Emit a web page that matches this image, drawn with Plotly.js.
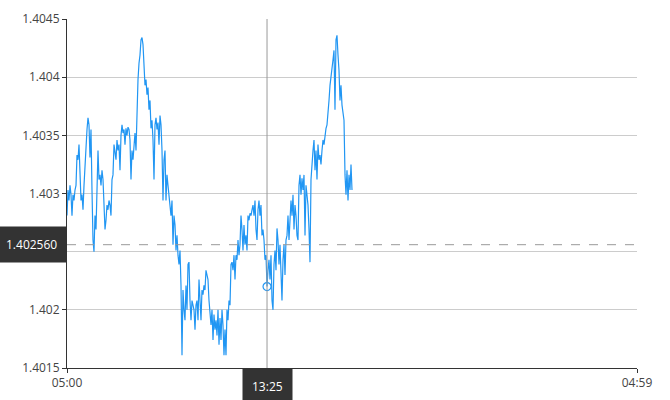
<!DOCTYPE html>
<html>
<head>
<meta charset="utf-8">
<script src="https://cdn.plot.ly/plotly-3.0.1.min.js"></script>
<style>html,body{margin:0;padding:0;background:#fff;}#chart{width:670px;height:400px;}</style>
</head>
<body>
<div id="chart"></div>
<script>
// Price series, one value per sampling step starting at 05:00
const prices = [
1.40281,1.40303,1.40294,1.40307,1.40299,1.40281,1.40299,1.40294,1.40303,1.40307,
1.40333,1.40329,1.40342,1.40320,1.40294,1.40299,1.40286,1.40307,1.40325,1.40333,
1.40355,1.40365,1.40359,1.40331,1.40355,1.40303,1.40260,1.40250,1.40281,1.40269,
1.40303,1.40337,1.40312,1.40316,1.40307,1.40320,1.40312,1.40281,1.40269,1.40277,
1.40290,1.40286,1.40294,1.40290,1.40281,1.40312,1.40316,1.40342,1.40337,1.40329,
1.40346,1.40337,1.40342,1.40320,1.40350,1.40359,1.40352,1.40355,1.40342,1.40356,
1.40350,1.40357,1.40355,1.40346,1.40312,1.40337,1.40329,1.40342,1.40352,1.40337,
1.40374,1.40398,1.40412,1.40419,1.40432,1.40434,1.40428,1.40415,1.40393,1.40398,
1.40385,1.40391,1.40372,1.40380,1.40356,1.40363,1.40346,1.40312,1.40359,1.40365,
1.40355,1.40361,1.40342,1.40367,1.40359,1.40337,1.40294,1.40329,1.40337,1.40294,
1.40316,1.40307,1.40299,1.40294,1.40281,1.40294,1.40256,1.40281,1.40273,1.40251,
1.40264,1.40247,1.40239,1.40251,1.40221,1.40161,1.40217,1.40200,1.40191,1.40221,
1.40200,1.40239,1.40241,1.40208,1.40191,1.40208,1.40204,1.40200,1.40183,1.40204,
1.40208,1.40191,1.40226,1.40213,1.40191,1.40217,1.40213,1.40221,1.40217,1.40234,
1.40230,1.40226,1.40208,1.40200,1.40187,1.40200,1.40174,1.40196,1.40183,1.40191,
1.40178,1.40200,1.40170,1.40193,1.40174,1.40200,1.40187,1.40161,1.40183,1.40161,
1.40200,1.40191,1.40208,1.40204,1.40239,1.40241,1.40234,1.40247,1.40226,1.40247,
1.40243,1.40260,1.40247,1.40256,1.40281,1.40269,1.40251,1.40273,1.40256,1.40264,
1.40251,1.40281,1.40277,1.40283,1.40281,1.40286,1.40290,1.40281,1.40294,1.40269,
1.40260,1.40286,1.40294,1.40281,1.40290,1.40264,1.40269,1.40260,1.40243,1.40247,
1.40220,1.40234,1.40243,1.40226,1.40247,1.40208,1.40200,1.40239,1.40251,1.40234,
1.40270,1.40260,1.40239,1.40256,1.40226,1.40208,1.40243,1.40256,1.40230,1.40260,
1.40264,1.40281,1.40260,1.40273,1.40294,1.40281,1.40299,1.40269,1.40290,1.40281,
1.40264,1.40260,1.40307,1.40316,1.40299,1.40313,1.40303,1.40316,1.40264,1.40307,
1.40299,1.40290,1.40269,1.40241,1.40312,1.40329,1.40337,1.40346,1.40320,1.40337,
1.40312,1.40342,1.40329,1.40333,1.40325,1.40337,1.40346,1.40342,1.40350,1.40356,
1.40359,1.40367,1.40380,1.40393,1.40399,1.40406,1.40415,1.40423,1.40372,1.40432,
1.40436,1.40419,1.40406,1.40380,1.40393,1.40376,1.40367,1.40363,1.40316,1.40299,
1.40320,1.40294,1.40316,1.40303,1.40325,1.40303
];
const sessionStart = '2024-01-01 05:00';
const sessionEnd = '2024-01-02 04:59';
const xTickLabels = ['05:00', '04:59'];
const yTickValues = [1.4015, 1.402, 1.4025, 1.403, 1.4035, 1.404, 1.4045];
// 1.4025 label is covered by the level label box in the reference
const yTickLabels = ['1.4015', '1.402', '', '1.403', '1.4035', '1.404', '1.4045'];
const stepMinutes = 1439 / 570;
const hoverTime = '2024-01-01 13:25';
const hoverLabel = '13:25';
const hoverValue = 1.40220;
const refLevel = 1.40256;
const refLabel = '1.402560';

// timestamps on a regular grid from the session start
const base = new Date(Date.UTC(2024, 0, 1, 5, 0, 0)).getTime();
function fmt(ms) {
  const d = new Date(ms);
  const p = n => String(n).padStart(2, '0');
  return d.getUTCFullYear() + '-' + p(d.getUTCMonth() + 1) + '-' + p(d.getUTCDate()) + ' ' +
    p(d.getUTCHours()) + ':' + p(d.getUTCMinutes()) + ':' + p(d.getUTCSeconds());
}
const times = prices.map((_, i) => fmt(base + Math.round(i * stepMinutes * 60000)));

const blue = '#2196f3';
const traces = [
  {x: times, y: prices, type: 'scatter', mode: 'lines',
   line: {color: blue, width: 1.2}, hoverinfo: 'skip'},
  {x: [hoverTime], y: [hoverValue], type: 'scatter', mode: 'markers',
   marker: {size: 8, color: 'rgba(255,255,255,0)', line: {color: blue, width: 1.2}}, hoverinfo: 'skip'}
];

const layout = {
  width: 670, height: 400,
  margin: {l: 67, r: 33, t: 19, b: 32},
  paper_bgcolor: '#fff', plot_bgcolor: '#fff',
  showlegend: false,
  font: {family: 'Open Sans, Noto Sans, sans-serif', size: 12, color: '#444'},
  xaxis: {
    type: 'date', range: [sessionStart, sessionEnd],
    tickvals: [sessionStart, sessionEnd], ticktext: xTickLabels,
    showgrid: false, zeroline: false,
    showline: true, linecolor: '#333', linewidth: 1,
    ticks: 'outside', ticklen: 4, tickcolor: '#333',
    tickfont: {size: 12, color: '#444'}
  },
  yaxis: {
    range: [1.4015, 1.4045],
    tickvals: yTickValues, ticktext: yTickLabels,
    showgrid: true, gridcolor: '#cccccc', gridwidth: 1, zeroline: false,
    showline: true, linecolor: '#333', linewidth: 1,
    ticks: 'outside', ticklen: 4, tickcolor: '#333',
    tickfont: {size: 12, color: '#444'}
  },
  shapes: [
    {type: 'line', xref: 'paper', x0: 0, x1: 1, yref: 'y', y0: refLevel, y1: refLevel,
     line: {color: '#999', width: 1, dash: 'dash'}},
    {type: 'line', xref: 'x', x0: hoverTime, x1: hoverTime, yref: 'paper', y0: 0, y1: 1,
     line: {color: '#999', width: 1}}
  ],
  annotations: [
    {xref: 'paper', x: 0, xanchor: 'right', yref: 'y', y: refLevel, yanchor: 'middle',
     text: refLabel, showarrow: false, bgcolor: '#333', borderpad: 9, xshift: 0,
     font: {color: '#fff', size: 12}},
    {xref: 'x', x: hoverTime, xanchor: 'center', yref: 'paper', y: 0, yanchor: 'top',
     text: hoverLabel, showarrow: false, bgcolor: '#333', borderpad: 9,
     font: {color: '#fff', size: 12}}
  ]
};

Plotly.newPlot('chart', traces, layout, {displayModeBar: false, staticPlot: true});
</script>
</body>
</html>
